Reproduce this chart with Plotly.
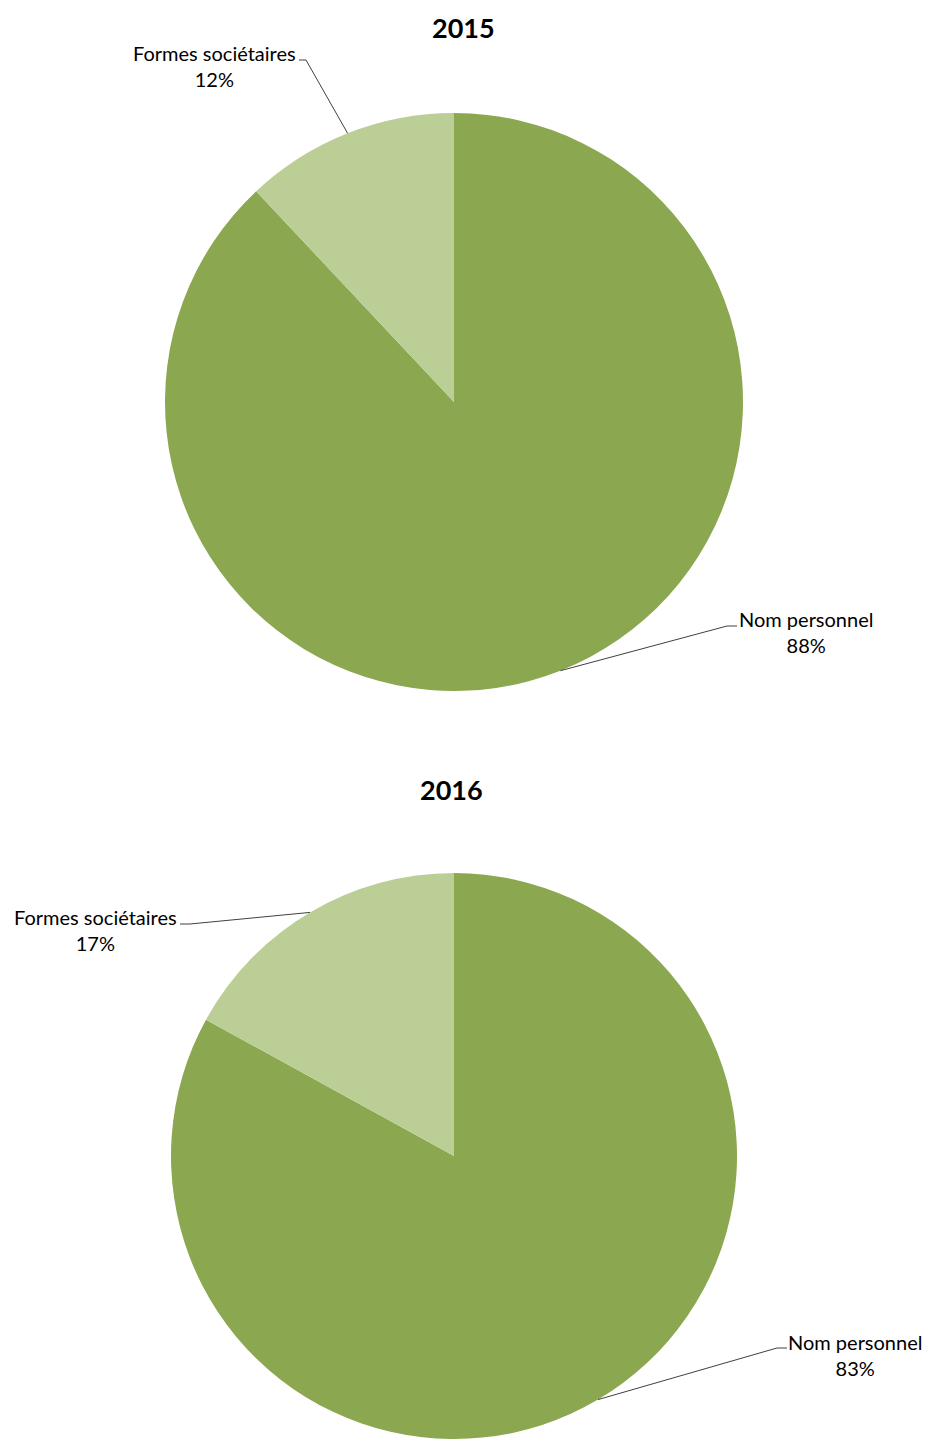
import math
import plotly.graph_objects as go

# ---- data ----
categories = ["Nom personnel", "Formes sociétaires"]
years = ["2015", "2016"]
values_2015 = [88, 12]
values_2016 = [83, 17]
colors = ["#8BA74F", "#BACE96"]

OFF = 8  # page body margin
W, H = 932 - 2 * OFF, 1447 - 2 * OFF
FONT = "Lato"

def px(x):
    return (x - OFF) / W

def py(y):
    return 1 - (y - OFF) / H

# pie layout (pixels on page): center x, center y, radius
pies = [
    dict(year="2015", values=values_2015, cx=454, cy=402, r=289,
         title_xy=(463, 28),
         labels_xy={"Nom personnel": (806, 632), "Formes sociétaires": (214, 66)},
         elbow={"Nom personnel": ((737, 626), (727, 626)),
                "Formes sociétaires": ((299, 60), (306, 60))}),
    dict(year="2016", values=values_2016, cx=454, cy=1156, r=283,
         title_xy=(451, 789),
         labels_xy={"Nom personnel": (855, 1355), "Formes sociétaires": (95, 930)},
         elbow={"Nom personnel": ((787, 1348), (777, 1348)),
                "Formes sociétaires": ((180, 924), (190, 924))}),
]

fig = go.Figure()
annotations = []
shapes = []
for p in pies:
    cx, cy, r = p["cx"], p["cy"], p["r"]
    fig.add_trace(go.Pie(
        labels=categories, values=p["values"], sort=False, direction="clockwise",
        rotation=0, textinfo="none", hoverinfo="label+percent",
        marker=dict(colors=colors, line=dict(width=0)),
        domain=dict(x=[px(cx - r), px(cx + r)],
                    y=[max(0, py(cy + r)), min(1, py(cy - r))]),
        showlegend=False,
    ))
    tx, ty = p["title_xy"]
    annotations.append(dict(x=px(tx), y=py(ty), xref="paper", yref="paper",
                            text="<b>" + p["year"] + "</b>", showarrow=False,
                            font=dict(family=FONT, size=27, color="black"),
                            xanchor="center", yanchor="middle"))
    total = sum(p["values"])
    cum = 0
    for cat, v in zip(categories, p["values"]):
        mid = (cum + v / 2) / total * 2 * math.pi
        cum += v
        ex = cx + r * math.sin(mid)
        ey = cy - r * math.cos(mid)
        (ax, ay), (bx, by) = p["elbow"][cat]
        path = f"M {px(ax)} {py(ay)} L {px(bx)} {py(by)} L {px(ex)} {py(ey)}"
        shapes.append(dict(type="path", xref="paper", yref="paper", path=path,
                           line=dict(color="#404040", width=1)))
        lx, ly = p["labels_xy"][cat]
        pct = round(v / total * 100)
        annotations.append(dict(x=px(lx), y=py(ly), xref="paper", yref="paper",
                                text=f"{cat}<br>{pct}%", showarrow=False,
                                font=dict(family=FONT, size=20, color="black"),
                                xanchor="center", yanchor="middle", align="center"))

fig.update_layout(width=W, height=H, margin=dict(l=0, r=0, t=0, b=0),
                  paper_bgcolor="white", plot_bgcolor="white",
                  annotations=annotations, shapes=shapes)
fig.write_html("out.html")
